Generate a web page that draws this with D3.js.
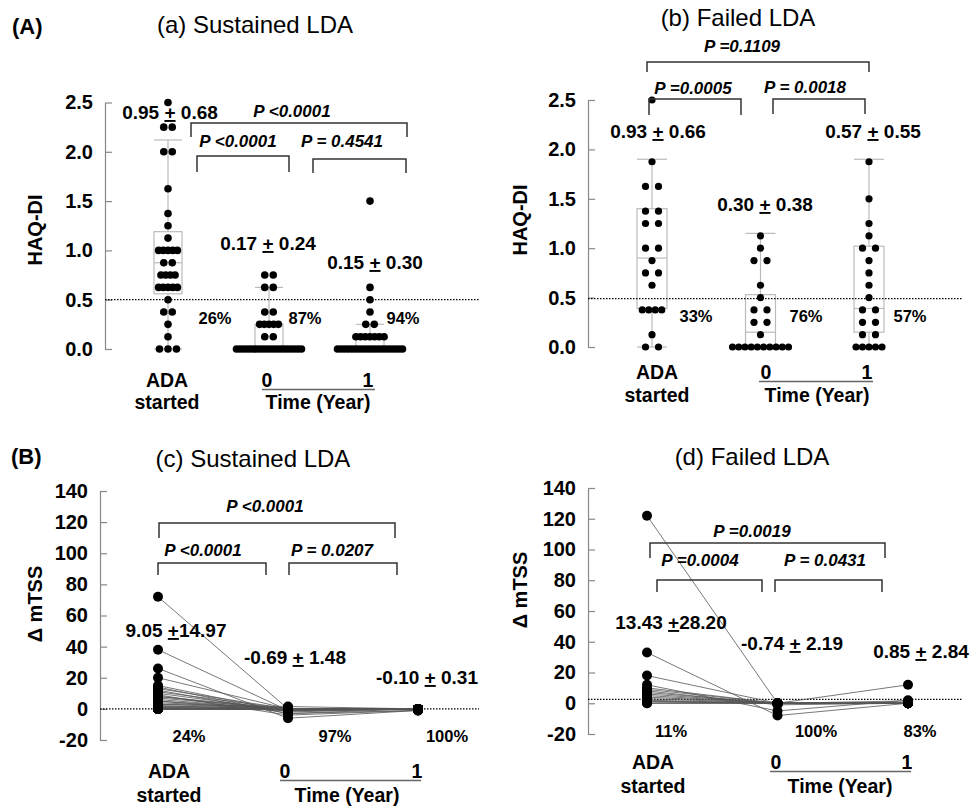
<!DOCTYPE html>
<html lang="en">
<head>
<meta charset="UTF-8">
<title>HAQ-DI and mTSS, sustained vs failed LDA</title>
<style>
  body { margin: 0; background: #fff; }
  svg { display: block; font-family: "Liberation Sans", Arial, Helvetica, sans-serif; }
  text { white-space: pre; fill: #000; }
  .tick-label { font-size: 20px; font-weight: bold; }
  .axis-title { font-size: 20px; font-weight: bold; }
  .title { font-size: 24px; }
  .tag { font-size: 22px; font-weight: bold; }
  .stat { font-size: 19px; font-weight: bold; }
  .pval { font-size: 17px; font-weight: bold; font-style: italic; }
  .pct { font-size: 16.5px; font-weight: bold; }
  .xlab { font-size: 19.5px; font-weight: bold; }
  .ref { stroke: #000; stroke-width: 1.2; stroke-dasharray: 1.5 1.5; }
  .bracket { fill: none; stroke: #333; stroke-width: 1.5; }
  .box { fill: none; stroke: #bbb; stroke-width: 1.2; }
  .subject { fill: none; stroke: #555; stroke-width: 0.8; }
</style>
</head>
<body>
<svg id="chart" width="971" height="806"></svg>
<script src="https://d3js.org/d3.v7.min.js"></script>
<script>
var groups = ["ADA started", "0", "1"];
var haqTicks = [0, 0.5, 1, 1.5, 2, 2.5];
var mtssTicks = [-20, 0, 20, 40, 60, 80, 100, 120, 140];

// (a) HAQ-DI, sustained LDA
var haqSusADA = [2.5, 2.25, 2.25, 2, 2, 1.625, 1.375, 1.25, 1.125, 1, 1, 1, 1, 1,
  0.875, 0.875, 0.75, 0.75, 0.75, 0.75, 0.625, 0.625, 0.625, 0.625, 0.625,
  0.5, 0.375, 0.375, 0.25, 0.125, 0, 0, 0];
var haqSusY0 = [0.75, 0.75, 0.625, 0.625, 0.375, 0.375, 0.25, 0.25, 0.25, 0.25, 0.25,
  0.125, 0.125, 0, 0, 0, 0, 0, 0, 0, 0, 0, 0, 0, 0, 0, 0, 0, 0, 0, 0, 0, 0];
var haqSusY1 = [1.5, 0.625, 0.5, 0.375, 0.25, 0.25, 0.125, 0.125, 0.125, 0.125, 0.125,
  0.125, 0.125, 0, 0, 0, 0, 0, 0, 0, 0, 0, 0, 0, 0, 0, 0, 0, 0, 0, 0, 0, 0];
// [low whisker, q1, median, q3, high whisker]
var haqSusBox = [[0, 0.56, 0.875, 1.19, 2.12], [0, 0, 0, 0.25, 0.625], [0, 0, 0, 0.125, 0.25]];
var haqSusStats = ["0.95 + 0.68", "0.17 + 0.24", "0.15 + 0.30"];
var haqSusPct = ["26%", "87%", "94%"];
var haqSusP = ["P <0.0001", "P <0.0001", "P = 0.4541"];

// (b) HAQ-DI, failed LDA
var haqFailADA = [2.5, 1.875, 1.625, 1.625, 1.375, 1.375, 1.25, 1.25, 1, 1, 0.875,
  0.75, 0.75, 0.625, 0.375, 0.375, 0.375, 0.375, 0.125, 0, 0];
var haqFailY0 = [1.125, 1, 0.875, 0.875, 0.625, 0.5, 0.375, 0.375, 0.25, 0.25, 0.125,
  0, 0, 0, 0, 0, 0, 0, 0, 0, 0];
var haqFailY1 = [1.875, 1.5, 1.25, 1.125, 1, 1, 0.875, 0.75, 0.625, 0.5, 0.375, 0.375,
  0.25, 0.25, 0.125, 0.125, 0, 0, 0, 0, 0];
var haqFailBox = [[0, 0.39, 0.9, 1.4, 1.9], [0, 0, 0.15, 0.53, 1.15], [0, 0.15, 0.39, 1.02, 1.9]];
var haqFailStats = ["0.93 + 0.66", "0.30 + 0.38", "0.57 + 0.55"];
var haqFailPct = ["33%", "76%", "57%"];
var haqFailP = ["P =0.1109", "P =0.0005", "P = 0.0018"];

// (c) delta mTSS, sustained LDA (one entry per patient)
var mtssSusADA = [72, 38, 26, 20, 15, 14, 13, 12, 11, 10, 9, 8, 8, 7, 6, 5, 5, 4, 3, 3,
  2, 2, 1.5, 1, 1, 0, 0, 0, 0, 0, 0, 0, 0];
var mtssSusY0 = [0, -1, -6, 0, -2, -3, 0, -3, 0, -1, -4, 0, -1, 0, -0.5, 0, -1.5, 0, 0,
  1.5, 0, 0, 0, 0, -1, 0, 0, 0, 0, 0, 0, 0, 0];
var mtssSusY1 = [0, 0, -1, 0, 0, 0, 0, -1, 0, 0, -1, 0, 0, 0, 0, 0, 0, 0, 0, 0, 0, 0,
  0, 0, 0, 0, 0, 0, 0, 0, 0, 0, 0];
var mtssSusStats = ["9.05 +14.97", "-0.69 + 1.48", "-0.10 + 0.31"];
var mtssSusPct = ["24%", "97%", "100%"];
var mtssSusP = ["P <0.0001", "P <0.0001", "P = 0.0207"];

// (d) delta mTSS, failed LDA
var mtssFailADA = [122, 33, 18, 12, 10, 9, 8, 7, 6, 5, 4, 3, 2, 1.5, 1, 1, 0, 0];
var mtssFailY0 = [0, -8, 0, -5, 0, 0, -1, 0, 0, 0, 0, 0, 0, 0, 0, 0, 0, 0];
var mtssFailY1 = [0, 0, 0, 2, 12, 0, 0, 1.5, 0, 0, 0, 0, 0, 0, 0, 0, 0, 0];
var mtssFailStats = ["13.43 +28.20", "-0.74 + 2.19", "0.85 + 2.84"];
var mtssFailPct = ["11%", "100%", "83%"];
var mtssFailP = ["P =0.0019", "P =0.0004", "P = 0.0431"];

var svg = d3.select("#chart");
var intFmt = function(d) { return String(d); }; // plain hyphen for negatives

var panels = [
  { kind: "box", values: [haqSusADA, haqSusY0, haqSusY1], boxes: haqSusBox,
    stats: haqSusStats, pct: haqSusPct, p: haqSusP,
    domain: [0, 2.5], ticks: haqTicks, fmt: d3.format(".1f"), ref: 0.5,
    axisX: 105, yRange: [349, 102.5], xRange: [168, 370], refEnd: 479, boxW: 28,
    r: 3.8, pairStep: 8.5, step: 4.7, maxSpan: 65,
    title: "(a) Sustained LDA", titleAt: [255, 33], tag: "(A)", tagAt: [12, 34],
    yTitle: "HAQ-DI", yTitleAt: [35, 230],
    statAt: [[170, 119], [268, 250], [375, 269]],
    pctAt: [[215, 324], [305, 324], [403, 324]],
    brackets: [[191, 407, 123, 137, 292, 117], [197, 289, 156, 172, 238, 147], [313, 406, 159, 173, 342, 147]],
    xlab: { ada: 167, t0: 267, t1: 368, base: 387, line: [262, 375], time: 318, base2: 409 } },
  { kind: "box", values: [haqFailADA, haqFailY0, haqFailY1], boxes: haqFailBox,
    stats: haqFailStats, pct: haqFailPct, p: haqFailP,
    domain: [0, 2.5], ticks: haqTicks, fmt: d3.format(".1f"), ref: 0.49,
    axisX: 588, yRange: [347, 100], xRange: [652, 869], refEnd: 963, boxW: 30,
    r: 3.6, pairStep: 13, step: 6.5, maxSpan: 56,
    title: "(b) Failed LDA", titleAt: [738, 26],
    yTitle: "HAQ-DI", yTitleAt: [520, 220],
    statAt: [[658, 138], [765, 211], [873, 138]],
    pctAt: [[696, 322], [806, 322], [910, 322]],
    brackets: [[647, 869, 62, 72, 742, 52], [649, 741, 99, 115, 693, 94], [773, 865, 99, 114, 805, 93]],
    xlab: { ada: 657, t0: 766, t1: 867, base: 379, line: [759, 873], time: 817, base2: 402 } },
  { kind: "line", values: [mtssSusADA, mtssSusY0, mtssSusY1],
    stats: mtssSusStats, pct: mtssSusPct, p: mtssSusP,
    domain: [-20, 140], ticks: mtssTicks, fmt: intFmt, ref: 0,
    axisX: 100, yRange: [740, 491], xRange: [158, 418], refEnd: 479, r: 5,
    title: "(c) Sustained LDA", titleAt: [253, 467], tag: "(B)", tagAt: [11, 464],
    yTitle: "\u0394 mTSS", yTitleAt: [35, 604],
    statAt: [[176, 637], [295, 664], [427, 684]],
    pctAt: [[189, 742], [335, 742], [447, 742]],
    brackets: [[159, 395, 523, 538, 265, 512], [158, 266, 563, 575, 203, 556], [289, 397, 563, 575, 332, 556]],
    xlab: { ada: 169, t0: 285, t1: 417, base: 778, line: [280, 421], time: 347, base2: 802 } },
  { kind: "line", values: [mtssFailADA, mtssFailY0, mtssFailY1],
    stats: mtssFailStats, pct: mtssFailPct, p: mtssFailP,
    domain: [-20, 140], ticks: mtssTicks, fmt: intFmt, ref: 2.5,
    axisX: 588, yRange: [734, 488], xRange: [647, 908], refEnd: 963, r: 5,
    title: "(d) Failed LDA", titleAt: [752, 465],
    yTitle: "\u0394 mTSS", yTitleAt: [520, 590],
    statAt: [[671, 629], [792, 650], [921, 658]],
    pctAt: [[671, 737], [816, 737], [920, 737]],
    brackets: [[650, 885, 543, 558, 752, 537], [657, 762, 580, 592, 700, 566], [775, 882, 580, 592, 825, 566]],
    xlab: { ada: 653, t0: 776, t1: 907, base: 769, line: [770, 911], time: 840, base2: 793 } }
];

panels.forEach(function(p) {
  var g = svg.append("g");
  var y = d3.scaleLinear().domain(p.domain).range(p.yRange);
  var x = d3.scalePoint().domain(groups).range(p.xRange);

  // y axis, ticks pointing inward
  var ax = g.append("g")
      .attr("transform", "translate(" + p.axisX + ",0)")
      .call(d3.axisLeft(y).tickValues(p.ticks).tickFormat(p.fmt)
        .tickSize(-7).tickSizeOuter(0).tickPadding(12));
  ax.attr("font-family", null).attr("font-size", null);
  ax.select(".domain").attr("stroke", "#888").attr("stroke-width", 1.2);
  ax.selectAll(".tick line").attr("stroke", "#888").attr("stroke-width", 1.2);
  ax.selectAll(".tick text").attr("class", "tick-label").attr("fill", "#000");

  g.append("text").attr("class", "axis-title")
      .attr("transform", "translate(" + p.yTitleAt[0] + "," + p.yTitleAt[1] + ")rotate(-90)")
      .attr("text-anchor", "middle").attr("dy", "0.35em")
      .text(p.yTitle);

  if (p.kind === "box") {
    p.boxes.forEach(function(b, i) {
      var cx = x(groups[i]), hw = p.boxW / 2;
      var bg = g.append("g").attr("class", "box");
      bg.append("line").attr("x1", cx).attr("x2", cx).attr("y1", y(b[0])).attr("y2", y(b[1]));
      bg.append("line").attr("x1", cx).attr("x2", cx).attr("y1", y(b[3])).attr("y2", y(b[4]));
      bg.append("rect").attr("x", cx - hw).attr("width", p.boxW)
          .attr("y", y(b[3])).attr("height", y(b[1]) - y(b[3]));
      [b[0], b[2], b[4]].forEach(function(v) {
        bg.append("line").attr("x1", cx - hw).attr("x2", cx + hw).attr("y1", y(v)).attr("y2", y(v));
      });
    });
  }

  g.append("line").attr("class", "ref")
      .attr("x1", p.axisX).attr("x2", p.refEnd)
      .attr("y1", y(p.ref)).attr("y2", y(p.ref));

  if (p.kind === "box") {
    // dots spread sideways within each value row
    var pts = [];
    p.values.forEach(function(vals, i) {
      var cx = x(groups[i]);
      d3.group(vals, function(d) { return d; }).forEach(function(list, v) {
        var n = list.length;
        var step = n <= 3 ? p.pairStep : Math.min(p.step, p.maxSpan / (n - 1));
        list.forEach(function(d, j) {
          pts.push({ x: cx + (j - (n - 1) / 2) * step, y: y(v) });
        });
      });
    });
    g.selectAll("circle").data(pts).join("circle")
        .attr("cx", function(d) { return d.x; })
        .attr("cy", function(d) { return d.y; })
        .attr("r", p.r).attr("fill", "#000");
  } else {
    var subjects = p.values[0].map(function(v, k) {
      return p.values.map(function(s, i) { return [x(groups[i]), y(s[k])]; });
    });
    g.selectAll("path.subject").data(subjects).join("path")
        .attr("class", "subject").attr("d", d3.line());
    p.values.forEach(function(vals, i) {
      g.append("g").selectAll("circle").data(vals).join("circle")
          .attr("cx", x(groups[i]))
          .attr("cy", function(d) { return y(d); })
          .attr("r", p.r).attr("fill", "#000");
    });
  }

  // significance brackets
  p.brackets.forEach(function(b, i) {
    g.append("path").attr("class", "bracket")
        .attr("d", "M" + b[0] + "," + b[3] + "V" + b[2] + "H" + b[1] + "V" + b[3]);
    g.append("text").attr("class", "pval").attr("text-anchor", "middle")
        .attr("x", b[4]).attr("y", b[5]).text(p.p[i]);
  });

  // mean +/- sd labels with underlined plus
  p.stats.forEach(function(s, i) {
    var parts = s.split("+");
    var t = g.append("text").attr("class", "stat").attr("text-anchor", "middle")
        .attr("x", p.statAt[i][0]).attr("y", p.statAt[i][1]);
    t.append("tspan").text(parts[0]);
    t.append("tspan").attr("text-decoration", "underline").text("+");
    t.append("tspan").text(parts[1]);
  });

  p.pct.forEach(function(s, i) {
    g.append("text").attr("class", "pct").attr("text-anchor", "middle")
        .attr("x", p.pctAt[i][0]).attr("y", p.pctAt[i][1]).text(s);
  });

  // x labels
  var xl = p.xlab;
  var words = groups[0].split(" ");
  g.append("text").attr("class", "xlab").attr("text-anchor", "middle")
      .attr("x", xl.ada).attr("y", xl.base).text(words[0]);
  g.append("text").attr("class", "xlab").attr("text-anchor", "middle")
      .attr("x", xl.ada).attr("y", xl.base2).text(words[1]);
  g.append("text").attr("class", "xlab").attr("text-anchor", "middle")
      .attr("x", xl.t0).attr("y", xl.base).text(groups[1]);
  g.append("text").attr("class", "xlab").attr("text-anchor", "middle")
      .attr("x", xl.t1).attr("y", xl.base).text(groups[2]);
  g.append("line").attr("x1", xl.line[0]).attr("x2", xl.line[1])
      .attr("y1", xl.base + 2.5).attr("y2", xl.base + 2.5)
      .attr("stroke", "#666").attr("stroke-width", 1.5);
  g.append("text").attr("class", "xlab").attr("text-anchor", "middle")
      .attr("x", xl.time).attr("y", xl.base2).text("Time (Year)");

  g.append("text").attr("class", "title").attr("text-anchor", "middle")
      .attr("x", p.titleAt[0]).attr("y", p.titleAt[1]).text(p.title);
  if (p.tag) {
    g.append("text").attr("class", "tag")
        .attr("x", p.tagAt[0]).attr("y", p.tagAt[1]).text(p.tag);
  }
});
</script>
</body>
</html>
